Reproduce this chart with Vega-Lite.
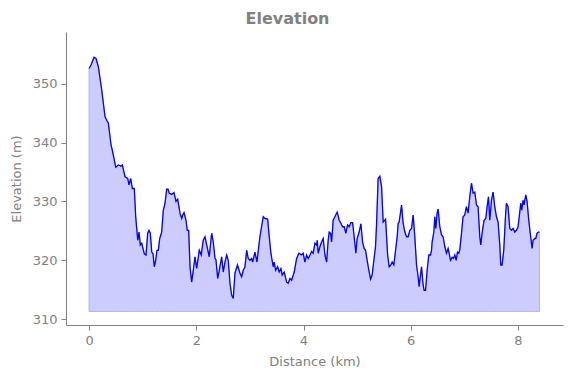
{
  "$schema": "https://vega.github.io/schema/vega-lite/v6.json",
  "width": 497,
  "height": 293,
  "autosize": {"type": "none"},
  "padding": {"left": 66, "top": 32, "right": 8, "bottom": 53},
  "background": "white",
  "title": {"text": "Elevation", "font": "DejaVu Sans", "fontSize": 16, "fontWeight": "bold", "color": "#808080", "anchor": "middle", "dx": -27, "offset": 5},
  "config": {
    "view": {"stroke": null},
    "axis": {"grid": false, "domainColor": "#808080", "tickColor": "#808080", "labelColor": "#808080", "titleColor": "#808080", "labelFont": "DejaVu Sans", "titleFont": "DejaVu Sans", "labelFontSize": 13, "titleFontSize": 13, "titleFontWeight": "normal", "tickSize": 5, "labelPadding": 4}
  },
  "data": {"values": [
    {"d":0.0,"e":352.6},{"d":0.037,"e":353.2},{"d":0.093,"e":354.5},{"d":0.13,"e":354.3},{"d":0.173,"e":352.9},{"d":0.237,"e":348.9},{"d":0.298,"e":344.4},{"d":0.33,"e":343.8},{"d":0.36,"e":343.3},{"d":0.41,"e":339.6},{"d":0.434,"e":338.7},{"d":0.498,"e":335.8},{"d":0.546,"e":336.2},{"d":0.596,"e":336.0},{"d":0.621,"e":336.2},{"d":0.671,"e":334.2},{"d":0.721,"e":333.9},{"d":0.746,"e":332.8},{"d":0.777,"e":333.9},{"d":0.807,"e":332.2},{"d":0.844,"e":332.2},{"d":0.87,"e":327.4},{"d":0.908,"e":323.4},{"d":0.932,"e":324.8},{"d":0.956,"e":322.6},{"d":0.982,"e":322.9},{"d":1.031,"e":321.1},{"d":1.062,"e":320.9},{"d":1.094,"e":324.6},{"d":1.118,"e":325.1},{"d":1.143,"e":324.6},{"d":1.169,"e":321.4},{"d":1.193,"e":321.1},{"d":1.217,"e":318.9},{"d":1.243,"e":320.0},{"d":1.267,"e":321.7},{"d":1.292,"e":321.7},{"d":1.318,"e":323.7},{"d":1.355,"e":324.8},{"d":1.385,"e":328.5},{"d":1.417,"e":329.7},{"d":1.448,"e":332.1},{"d":1.472,"e":332.1},{"d":1.497,"e":331.4},{"d":1.541,"e":331.2},{"d":1.584,"e":331.5},{"d":1.622,"e":330.0},{"d":1.653,"e":330.4},{"d":1.696,"e":328.0},{"d":1.728,"e":327.1},{"d":1.747,"e":327.7},{"d":1.771,"e":328.1},{"d":1.808,"e":326.8},{"d":1.832,"e":325.1},{"d":1.858,"e":325.1},{"d":1.883,"e":318.9},{"d":1.914,"e":316.3},{"d":1.944,"e":318.3},{"d":1.976,"e":320.6},{"d":2.007,"e":318.6},{"d":2.056,"e":321.7},{"d":2.093,"e":320.9},{"d":2.13,"e":323.4},{"d":2.162,"e":324.0},{"d":2.194,"e":322.6},{"d":2.242,"e":320.6},{"d":2.287,"e":324.6},{"d":2.317,"e":323.1},{"d":2.349,"e":320.3},{"d":2.367,"e":320.1},{"d":2.399,"e":316.9},{"d":2.429,"e":318.3},{"d":2.473,"e":320.6},{"d":2.503,"e":318.0},{"d":2.535,"e":319.7},{"d":2.567,"e":320.9},{"d":2.596,"e":320.0},{"d":2.628,"e":316.1},{"d":2.66,"e":314.1},{"d":2.69,"e":313.5},{"d":2.721,"e":317.8},{"d":2.768,"e":319.2},{"d":2.815,"e":317.8},{"d":2.846,"e":317.2},{"d":2.876,"e":318.3},{"d":2.908,"e":318.9},{"d":2.94,"e":321.7},{"d":2.969,"e":320.3},{"d":3.001,"e":320.0},{"d":3.033,"e":320.3},{"d":3.051,"e":319.7},{"d":3.094,"e":321.4},{"d":3.131,"e":319.7},{"d":3.187,"e":324.0},{"d":3.249,"e":327.4},{"d":3.281,"e":327.1},{"d":3.331,"e":327.0},{"d":3.361,"e":324.0},{"d":3.392,"e":321.2},{"d":3.435,"e":318.9},{"d":3.454,"e":319.7},{"d":3.48,"e":318.3},{"d":3.517,"e":318.9},{"d":3.547,"e":318.0},{"d":3.579,"e":318.6},{"d":3.603,"e":317.5},{"d":3.64,"e":318.0},{"d":3.685,"e":316.3},{"d":3.715,"e":316.1},{"d":3.747,"e":316.9},{"d":3.778,"e":316.6},{"d":3.827,"e":318.0},{"d":3.871,"e":320.3},{"d":3.914,"e":321.2},{"d":3.965,"e":320.9},{"d":3.994,"e":321.2},{"d":4.026,"e":319.7},{"d":4.058,"e":320.9},{"d":4.088,"e":320.3},{"d":4.119,"e":320.8},{"d":4.151,"e":321.5},{"d":4.181,"e":321.2},{"d":4.213,"e":322.9},{"d":4.245,"e":322.6},{"d":4.256,"e":323.4},{"d":4.274,"e":321.2},{"d":4.306,"e":322.3},{"d":4.337,"e":323.1},{"d":4.367,"e":323.7},{"d":4.399,"e":320.9},{"d":4.431,"e":319.7},{"d":4.46,"e":323.4},{"d":4.479,"e":324.8},{"d":4.505,"e":324.6},{"d":4.524,"e":323.1},{"d":4.554,"e":326.8},{"d":4.585,"e":327.4},{"d":4.628,"e":328.2},{"d":4.666,"e":326.8},{"d":4.697,"e":326.3},{"d":4.729,"e":325.7},{"d":4.759,"e":325.7},{"d":4.79,"e":324.6},{"d":4.822,"e":326.0},{"d":4.852,"e":325.7},{"d":4.883,"e":326.4},{"d":4.915,"e":326.4},{"d":4.945,"e":324.0},{"d":4.977,"e":321.2},{"d":5.001,"e":323.7},{"d":5.038,"e":324.8},{"d":5.07,"e":326.2},{"d":5.102,"e":323.1},{"d":5.131,"e":322.0},{"d":5.157,"e":321.7},{"d":5.187,"e":320.0},{"d":5.219,"e":318.3},{"d":5.251,"e":316.8},{"d":5.28,"e":317.5},{"d":5.312,"e":320.0},{"d":5.343,"e":322.3},{"d":5.362,"e":326.0},{"d":5.392,"e":333.9},{"d":5.424,"e":334.3},{"d":5.456,"e":332.5},{"d":5.486,"e":326.5},{"d":5.531,"e":327.0},{"d":5.569,"e":320.9},{"d":5.598,"e":318.9},{"d":5.63,"e":319.2},{"d":5.654,"e":319.7},{"d":5.685,"e":319.2},{"d":5.717,"e":321.7},{"d":5.747,"e":324.0},{"d":5.766,"e":326.3},{"d":5.784,"e":326.5},{"d":5.829,"e":329.4},{"d":5.858,"e":326.3},{"d":5.89,"e":324.8},{"d":5.922,"e":324.0},{"d":5.952,"e":324.0},{"d":5.983,"e":325.1},{"d":6.015,"e":325.4},{"d":6.045,"e":327.7},{"d":6.076,"e":324.0},{"d":6.108,"e":319.2},{"d":6.138,"e":317.2},{"d":6.156,"e":315.5},{"d":6.201,"e":318.9},{"d":6.231,"e":315.8},{"d":6.25,"e":314.9},{"d":6.276,"e":314.9},{"d":6.306,"e":318.3},{"d":6.337,"e":320.9},{"d":6.369,"e":320.9},{"d":6.388,"e":321.7},{"d":6.399,"e":323.1},{"d":6.431,"e":324.8},{"d":6.449,"e":327.4},{"d":6.468,"e":325.4},{"d":6.492,"e":328.0},{"d":6.511,"e":328.7},{"d":6.542,"e":325.7},{"d":6.574,"e":324.3},{"d":6.604,"e":324.0},{"d":6.636,"e":322.3},{"d":6.667,"e":321.2},{"d":6.697,"e":322.0},{"d":6.716,"e":321.2},{"d":6.742,"e":320.0},{"d":6.772,"e":320.5},{"d":6.798,"e":320.3},{"d":6.822,"e":320.9},{"d":6.848,"e":320.0},{"d":6.872,"e":321.4},{"d":6.897,"e":321.2},{"d":6.915,"e":321.8},{"d":6.947,"e":324.6},{"d":6.976,"e":327.4},{"d":7.008,"e":327.7},{"d":7.039,"e":329.1},{"d":7.07,"e":328.0},{"d":7.101,"e":330.8},{"d":7.133,"e":333.1},{"d":7.163,"e":331.4},{"d":7.195,"e":331.6},{"d":7.226,"e":329.4},{"d":7.256,"e":329.1},{"d":7.288,"e":324.0},{"d":7.306,"e":322.6},{"d":7.338,"e":325.1},{"d":7.368,"e":326.8},{"d":7.4,"e":327.1},{"d":7.424,"e":329.1},{"d":7.45,"e":330.8},{"d":7.474,"e":326.8},{"d":7.506,"e":330.2},{"d":7.536,"e":331.6},{"d":7.567,"e":329.1},{"d":7.599,"e":327.4},{"d":7.629,"e":326.5},{"d":7.661,"e":322.6},{"d":7.679,"e":319.2},{"d":7.704,"e":319.2},{"d":7.735,"e":321.7},{"d":7.767,"e":327.4},{"d":7.785,"e":329.7},{"d":7.815,"e":329.1},{"d":7.847,"e":325.4},{"d":7.879,"e":325.1},{"d":7.909,"e":325.4},{"d":7.94,"e":324.8},{"d":7.972,"e":325.1},{"d":8.002,"e":325.7},{"d":8.034,"e":328.2},{"d":8.052,"e":329.7},{"d":8.071,"e":328.5},{"d":8.095,"e":330.2},{"d":8.114,"e":329.4},{"d":8.145,"e":331.1},{"d":8.17,"e":330.0},{"d":8.201,"e":326.8},{"d":8.233,"e":324.3},{"d":8.263,"e":322.0},{"d":8.282,"e":323.4},{"d":8.313,"e":323.7},{"d":8.332,"e":323.7},{"d":8.356,"e":324.6},{"d":8.382,"e":324.8},{"d":8.401,"e":324.8}
  ]},
  "encoding": {
    "x": {"field": "d", "type": "quantitative", "scale": {"domain": [-0.43, 8.84], "nice": false, "zero": false}, "axis": {"title": "Distance (km)", "values": [0, 2, 4, 6, 8], "titlePadding": 8}},
    "y": {"field": "e", "type": "quantitative", "scale": {"domain": [309.0, 358.8], "nice": false, "zero": false}, "axis": {"title": "Elevation (m)", "values": [310, 320, 330, 340, 350], "titlePadding": 9}}
  },
  "layer": [
    {"mark": {"type": "area", "color": "#ccccff", "opacity": 1, "stroke": "#b0b0ff", "strokeWidth": 1}, "encoding": {"y2": {"datum": 311.3}}},
    {"mark": {"type": "line", "color": "#0000ff", "strokeWidth": 1.3}}
  ]
}
